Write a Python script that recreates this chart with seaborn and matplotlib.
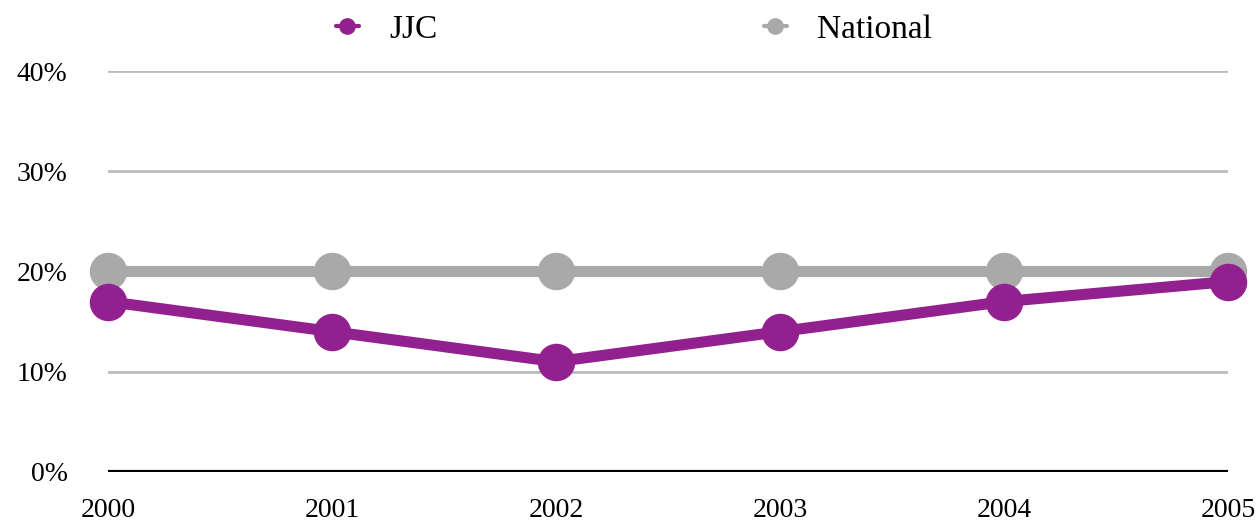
import pandas as pd
import matplotlib.pyplot as plt
import seaborn as sns
from matplotlib.ticker import FuncFormatter

# ==== Data ====
years = [2000, 2001, 2002, 2003, 2004, 2005]
jjc = [17, 14, 11, 14, 17, 19]
national = [20, 20, 20, 20, 20, 20]
series_names = ["JJC", "National"]
colors = {"JJC": "#93208F", "National": "#A9A9A9"}

df = pd.DataFrame({
    "year": years * 2,
    "value": jjc + national,
    "series": ["JJC"] * len(years) + ["National"] * len(years),
})

# ==== Plot ====
sns.set_style("white")
plt.rcParams["font.family"] = ["Liberation Serif", "DejaVu Serif"]
plt.rcParams["text.color"] = "black"
plt.rcParams["xtick.color"] = "black"
plt.rcParams["ytick.color"] = "black"

fig = plt.figure(figsize=(12.6, 5.26), dpi=100)
ax = fig.add_axes([0.0857, 0.1027, 0.889, 0.7623])

sns.lineplot(data=df, x="year", y="value", hue="series", hue_order=["National", "JJC"],
             palette=colors, ax=ax, legend=False, lw=8, marker="o", markersize=27,
             markeredgewidth=0, zorder=3, clip_on=False)

ax.set_xlim(2000, 2005)
ax.set_ylim(0, 40)
ax.set_yticks([0, 10, 20, 30, 40])
ax.yaxis.set_major_formatter(FuncFormatter(lambda v, p: f"{int(v)}%"))
ax.set_xticks(years)
ax.set_xticklabels([str(y) for y in years])
ax.grid(axis="y", color="#BBBBBB", lw=2)
ax.set_axisbelow(True)
ax.axhline(0, color="black", lw=3, zorder=2)
for s in ax.spines.values():
    s.set_visible(False)
ax.tick_params(axis="y", length=0, pad=29, labelsize=20, labelcolor="black")
ax.tick_params(axis="x", length=0, pad=19, labelsize=20, labelcolor="black")
ax.set_xlabel("")
ax.set_ylabel("")

handles = [plt.Line2D([], [], color=colors[n], lw=3, marker="o", markersize=11) for n in series_names]
fig.legend(handles, series_names, loc="upper center", bbox_to_anchor=(0.503, 1.03),
           ncol=2, frameon=False, fontsize=24, handlelength=0.7, columnspacing=9.8,
           handletextpad=0.9, labelcolor="black")

plt.savefig("out.png", dpi=100)
